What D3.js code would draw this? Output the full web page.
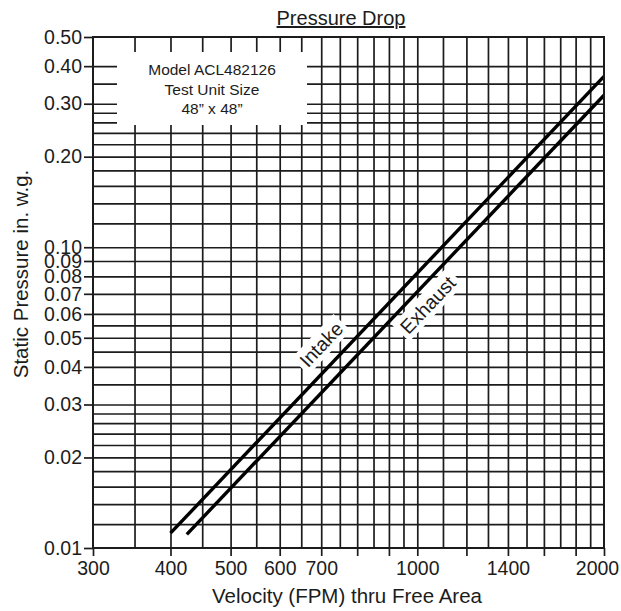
<!DOCTYPE html>
<html>
<head>
<meta charset="utf-8">
<script src="https://cdn.jsdelivr.net/npm/d3@7"></script>
<style>
  html, body { margin: 0; padding: 0; background: #fff; }
  svg { display: block; font-family: "Liberation Sans", Arial, sans-serif; }
</style>
</head>
<body>
<div id="chart"></div>
<script>
// Axis ticks / labels
const xTickValues = [300, 400, 500, 600, 700, 800, 900, 1000, 1200, 1400, 1600, 1800, 2000];
const xTickLabels = [300, 400, 500, 600, 700, 1000, 1400, 2000];
const xGridValues = [350, 400, 450, 500, 550, 600, 650, 700, 750, 800, 850, 900, 950, 1000,
  1100, 1200, 1300, 1400, 1500, 1600, 1700, 1800, 1900];
const yTickLabels = [0.01, 0.02, 0.03, 0.04, 0.05, 0.06, 0.07, 0.08, 0.09, 0.10, 0.20, 0.30, 0.40, 0.50];
const yGridValues = [0.012, 0.014, 0.016, 0.018, 0.02, 0.022, 0.024, 0.026, 0.028, 0.03, 0.035,
  0.04, 0.045, 0.05, 0.055, 0.06, 0.07, 0.08, 0.09, 0.10, 0.12, 0.14, 0.16, 0.18, 0.20,
  0.22, 0.24, 0.26, 0.28, 0.30, 0.35, 0.40];

// Series (velocity FPM, static pressure in. w.g.)
const intakeVelocity = [400, 2000];
const intakePressure = [0.0112, 0.37];
const exhaustVelocity = [425, 2000];
const exhaustPressure = [0.0111, 0.32];

// Curve labels (where they sit on the chart, in data units)
const curveNames = ["Intake", "Exhaust"];
const curveLabelVelocity = [700, 1040];
const curveLabelPressure = [0.0475, 0.0643];

const legendLines = ["Model ACL482126", "Test Unit Size", "48\u201D x 48\u201D"];

const width = 621, height = 611;
const margin = { top: 37, right: 17, bottom: 63, left: 93 };
const ink = "#1c1c1c";

const svg = d3.select("#chart").append("svg")
  .attr("width", width)
  .attr("height", height);

const x = d3.scaleLog().domain([300, 2000]).range([margin.left, width - margin.right]);
const y = d3.scaleLog().domain([0.01, 0.5]).range([height - margin.bottom, margin.top]);
const plotH = y(0.01) - y(0.5);
const plotW = x(2000) - x(300);

// grid lines
svg.append("g")
  .attr("transform", `translate(0,${y(0.01)})`)
  .call(d3.axisBottom(x).tickValues(xGridValues).tickSize(-plotH).tickFormat(""))
  .call(g => g.select(".domain").remove())
  .call(g => g.selectAll("line").attr("stroke", ink).attr("stroke-width", 1.7));

svg.append("g")
  .attr("transform", `translate(${x(300)},0)`)
  .call(d3.axisLeft(y).tickValues(yGridValues).tickSize(-plotW).tickFormat(""))
  .call(g => g.select(".domain").remove())
  .call(g => g.selectAll("line").attr("stroke", ink).attr("stroke-width", 1.7));

// legend box knocks out the grid
svg.append("rect")
  .attr("x", 117).attr("y", 52)
  .attr("width", 190).attr("height", 73)
  .attr("fill", "#fff");

svg.append("text")
  .attr("x", 212)
  .attr("font-size", 15.5)
  .attr("fill", ink)
  .attr("text-anchor", "middle")
  .selectAll("tspan")
  .data(legendLines)
  .join("tspan")
  .attr("x", 212)
  .attr("y", (d, i) => 75 + i * 19.5)
  .text(d => d);

// curves
const line = d3.line().x(d => x(d[0])).y(d => y(d[1]));
const series = [
  d3.zip(intakeVelocity, intakePressure),
  d3.zip(exhaustVelocity, exhaustPressure)
];
svg.append("g")
  .selectAll("path")
  .data(series)
  .join("path")
  .attr("d", line)
  .attr("fill", "none")
  .attr("stroke", "#000")
  .attr("stroke-width", 3.4);

// curve labels, rotated along the lines with a white knock-out
const angle = Math.atan2(
  y(intakePressure[1]) - y(intakePressure[0]),
  x(intakeVelocity[1]) - x(intakeVelocity[0])) * 180 / Math.PI;

curveNames.forEach((name, i) => {
  const g = svg.append("g")
    .attr("transform", `translate(${x(curveLabelVelocity[i])},${y(curveLabelPressure[i])}) rotate(${angle})`);
  const bg = g.append("rect").attr("fill", "#fff");
  const t = g.append("text")
    .attr("text-anchor", "middle")
    .attr("dy", "0.35em")
    .attr("font-size", 19.5)
    .attr("fill", ink)
    .text(name);
  const b = t.node().getBBox();
  bg.attr("x", b.x - 4).attr("y", b.y - 1).attr("width", b.width + 8).attr("height", b.height + 2);
});

// plot frame
svg.append("rect")
  .attr("x", x(300)).attr("y", y(0.5))
  .attr("width", plotW).attr("height", plotH)
  .attr("fill", "none")
  .attr("stroke", ink)
  .attr("stroke-width", 2);

// axes
svg.append("g")
  .attr("transform", `translate(0,${y(0.01)})`)
  .call(d3.axisBottom(x)
    .tickValues(xTickValues)
    .tickSize(8)
    .tickPadding(5)
    .tickFormat(d => xTickLabels.includes(d) ? d : ""))
  .call(g => g.select(".domain").remove())
  .call(g => g.selectAll("line").attr("stroke", ink).attr("stroke-width", 1.7))
  .call(g => g.selectAll("text")
    .attr("font-size", 19.5)
    .attr("font-family", "Liberation Sans, Arial, sans-serif")
    .attr("fill", ink)
    // last label is nudged left so it stays inside the page, as in the original
    .attr("dx", d => d === 2000 ? -7 : 0));

svg.append("g")
  .attr("transform", `translate(${x(300)},0)`)
  .call(d3.axisLeft(y)
    .tickValues(yTickLabels)
    .tickSize(9)
    .tickPadding(2)
    .tickFormat(d3.format(".2f")))
  .call(g => g.select(".domain").remove())
  .call(g => g.selectAll("line").attr("stroke", ink).attr("stroke-width", 1.7))
  .call(g => g.selectAll("text")
    .attr("font-size", 19.5)
    .attr("font-family", "Liberation Sans, Arial, sans-serif")
    .attr("fill", ink));

// titles
svg.append("text")
  .attr("x", 341).attr("y", 25)
  .attr("text-anchor", "middle")
  .attr("font-size", 20)
  .attr("fill", ink)
  .attr("text-decoration", "underline")
  .text("Pressure Drop");

svg.append("text")
  .attr("x", 347).attr("y", 603)
  .attr("text-anchor", "middle")
  .attr("font-size", 20.5)
  .attr("fill", ink)
  .text("Velocity (FPM) thru Free Area");

svg.append("text")
  .attr("transform", "translate(28,274) rotate(-90)")
  .attr("text-anchor", "middle")
  .attr("font-size", 20.5)
  .attr("fill", ink)
  .text("Static Pressure in. w.g.");
</script>
</body>
</html>
